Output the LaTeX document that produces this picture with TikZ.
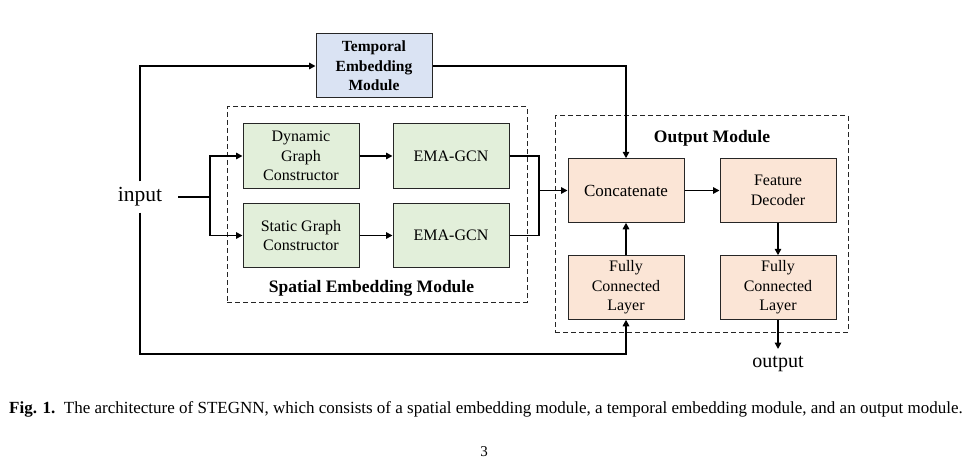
\documentclass[tikz,border=0pt]{standalone}
\usepackage{fontspec}
\setmainfont{Liberation Serif}
\usetikzlibrary{arrows.meta}
\definecolor{tblue}{HTML}{DAE3F3}
\definecolor{sgreen}{HTML}{E2EFDA}
\definecolor{opeach}{HTML}{FBE5D6}
\begin{document}
\begin{tikzpicture}[x=1pt,y=-1pt,
  box/.style={draw=black!85, line width=1pt, minimum width=116pt, minimum height=63.5pt, inner sep=1pt, align=center,
    font=\fontsize{16}{19.5}\selectfont},
  gbox/.style={box, fill=sgreen},
  obox/.style={box, fill=opeach},
  frame/.style={draw=black!85, line width=1pt, dash pattern=on 5pt off 3pt},
  conn/.style={line width=1.5pt},
  arr/.style={conn, -{Triangle[length=6.5pt,width=6.5pt]}},
  lbl/.style={font=\bfseries\fontsize{17.5}{21}\selectfont, inner sep=0pt}
]
\useasboundingbox (0,0) rectangle (971,468);
\fill[white] (0,0) rectangle (971,468);

% frames
\node[frame, minimum width=300pt, minimum height=195pt, inner sep=0pt] (spatial) at (377,204.5) {};
\node[frame, minimum width=293pt, minimum height=216pt, inner sep=0pt] (outmod) at (701.5,224) {};
\node[lbl] (spatiallbl) at (371.5,288) {Spatial Embedding Module};
\node[lbl] (outlbl) at (712,138) {Output Module};

% boxes
\node[box, fill=tblue, font=\bfseries\fontsize{15.5}{19.5}\selectfont, minimum height=64pt] (temporal) at (374,66) {Temporal\\Embedding\\Module};
\node[gbox, minimum height=64pt] (dyn) at (301,156) {Dynamic\\Graph\\Constructor};
\node[gbox, minimum height=64pt] (ema1) at (451,156) {EMA-GCN};
\node[gbox] (stat) at (301,235.5) {Static Graph\\Constructor};
\node[gbox] (ema2) at (451,235.5) {EMA-GCN};
\node[obox] (concat) at (626,190.5) {\fontsize{17}{20}\selectfont Concatenate};
\node[obox] (fdec) at (778,190.5) {Feature\\Decoder};
\node[obox] (fc1) at (626,287.5) {Fully\\Connected\\Layer};
\node[obox] (fc2) at (778,287.5) {Fully\\Connected\\Layer};

% input / output
\node[minimum width=76pt, minimum height=31pt, inner sep=0pt, font=\fontsize{21.5}{24}\selectfont] (input) at (140,197) {input};
\node[anchor=north, inner sep=0pt, font=\fontsize{20}{24}\selectfont] (output) at (778,356) {output};
\coordinate (split) at (210,197);
\coordinate (merge) at (539,190.5);
\coordinate (tl) at (140,66);
\coordinate (bl) at (140,354);
\coordinate (outend) at (778,349);

% connectors
\draw[conn] (input.east) -- (split);
\draw[arr] (split) |- (dyn.west);
\draw[arr] (split) |- (stat.west);
\draw[arr] (dyn) -- (ema1);
\draw[arr] (stat) -- (ema2);
\draw[conn] (ema1.east) -| (merge);
\draw[conn] (ema2.east) -| (merge);
\draw[arr] (merge) -- (concat.west);
\draw[arr] (input.north) -- (tl) -- (temporal.west);
\draw[arr] (temporal.east) -| (concat.north);
\draw[arr] (input.south) -- (bl) -| (fc1.south);
\draw[arr] (fc1) -- (concat);
\draw[arr] (concat) -- (fdec);
\draw[arr] (fdec) -- (fc2);
\draw[arr] (fc2.south) -- (outend);

% caption
\node[anchor=base west, inner sep=0pt, font=\fontsize{17}{20}\selectfont] (caption) at (9,413) {\textbf{Fig. 1.}\hspace{0.5em}The architecture of STEGNN, which consists of a spatial embedding module, a temporal embedding module, and an output module.};
\node[anchor=base, inner sep=0pt, font=\fontsize{15}{16}\selectfont] (page) at (484,456) {3};
\end{tikzpicture}
\end{document}
